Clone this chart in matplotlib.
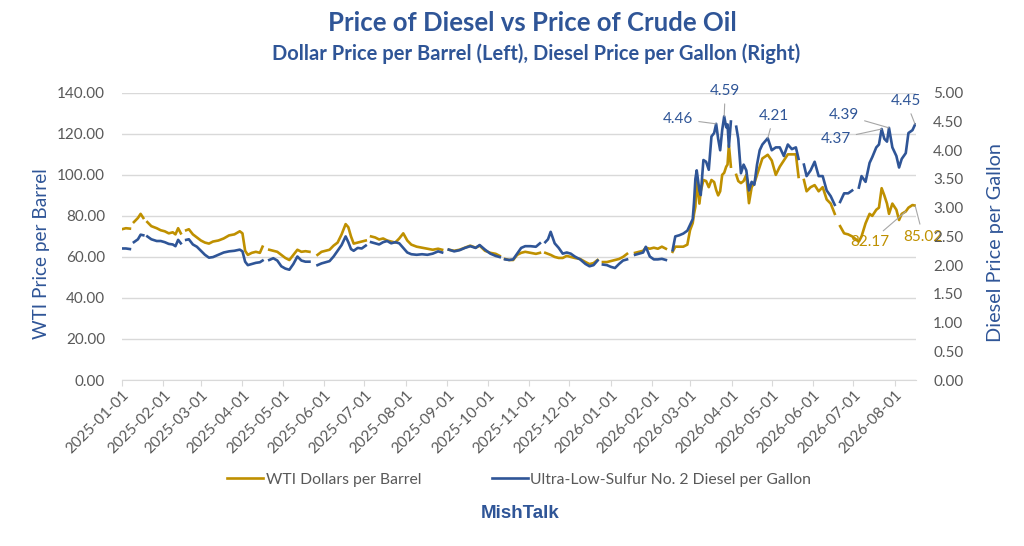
import numpy as np
import matplotlib
matplotlib.use('Agg')
import matplotlib.pyplot as plt
import matplotlib.dates as mdates
from datetime import datetime, timedelta

plt.rcParams['font.family'] = ['Lato', 'DejaVu Sans']

BLUE = '#2F5597'
GOLD = '#BF9000'
GRAY_TXT = '#595959'
GRID = '#D9D9D9'

# days since 2025-01-01 (nan = gap in the series)
start = datetime(2025, 1, 1)
day = [0, 3, 6, 7, 9, 12, 14, 16, 18, 19, 22, 26, 29, 32, 35, 38, 40, 42, 44, 45,
       48, 50, 53, 56, 59, 62, 65, 68, 72, 76, 80, 84, 88, 90, 92, 94, 97, 100, 103, 105,
       107, 110, 113, 116, 119, 122, 125, 128, 131, 134, 137, 140, 143, 146, 149, 152,
       155, 158, 161, 164, 167, 169, 171, 173, 176, 179, 182, 184, 186, 189, 192, 195,
       198, 201, 204, 207, 210, 213, 216, 220, 224, 228, 232, 236, 239, 241, 244, 248,
       252, 256, 260, 264, 267, 271, 275, 279, 282, 284, 286, 289, 292, 295, 298, 301,
       305, 309, 312, 314, 316, 318, 320, 323, 326, 329, 332, 335, 338, 342, 346, 349,
       352, 355, 357, 359, 362, 365, 368, 371, 374, 377, 380, 383, 386, 389, 391, 394,
       397, 400, 403, 406, 409, 411, 413, 416, 419, 422, 424, 426, 427, 428, 429, 431,
       432, 434, 436, 438, 440, 442, 443.5, 445, 446.5, 448, 449.5, 451, 452, 453, 454.5,
       456.5, 458.5, 460, 462, 464, 466, 468, 470, 472, 474, 476, 478, 482, 485, 488,
       491, 494, 497, 500, 503, 505, 507, 509, 511, 514, 517, 520, 523, 526, 529, 532,
       534, 536, 539, 542, 545, 547, 550, 552, 555, 558, 560, 563, 565, 567, 569, 571,
       572.5, 575, 578, 580, 582, 585, 587, 590, 592]

nan = np.nan
wti = [73.5, 74.0, 73.8, nan, 77, 79, 81, 79, nan, 77, 75, 74, 73, 72.5, 71.5, 72, 71, 74, 71.5, nan,
       73, 73.5, 71, 69.5, 68, 67, 66.5, 67.5, 68, 69, 70.5, 71, 72.5, 71.5, 63, 61, 62, 62.5, 62, 65,
       nan, 63.5, 63, 62.5, 61, 59.5, 58.5, 61, 63.5, 62.5, 62.8, 62.5, nan, 61, 62.5, 63,
       63.5, 65.5, 67, 71, 76, 74.5, 70, 66.5, 67, 67.5, 68, nan, 70, 69.5, 68.5, 69,
       68, 67.5, 67, 69, 71.5, 68, 66, 65, 64.5, 64, 63.5, 64, 63.5, nan, 63.5, 63,
       63.5, 64.5, 65.5, 64.5, 65.5, 63, 62, 61.5, 60.5, nan, 59, 58.5, 58.5, 61, 62, 62.5,
       62, 61.5, 62, nan, 62, 61.5, 61, 60, 59.5, 59.5, 60.5, 60, 59.5, 59, 57.5, 56.5,
       57, 58.5, nan, 57.5, 57.5, 58, 58.5, 59, 60, 61.5, nan, 62, 62.5, 63, 64.5, 64,
       64.5, 64, 65, 64, nan, 62.5, 65, 65, 65, 66, 73, 76.5, 81, 84.5, 97.5, 86,
       92, 97.5, 97, 94, 97.5, 96.5, 92.7, 90, 92, 100, 101, 104, 105, 114.6, 104,
       nan, 100, 97, 96, 97, 100, 86.2, 94, 96, 100, 104, 108, 109.8, 107, 100,
       104, 107, 110, 110, 110, 99, nan, 97.5, 92, 94, 95, 92, 94, 88, 86, 81,
       nan, 75, 71.5, 71, 70, 69, 67.5, 70, 76.4, 81, 80, 83, 84, 93.5, 90, 86,
       81, 86, 83, 78, 81, 82.17, 84, 85.3, 85.02]

diesel = [2.29, 2.29, 2.28, nan, 2.40, 2.45, 2.53, 2.52, nan, 2.50, 2.45, 2.42, 2.42, 2.40, 2.37, 2.36, 2.33, 2.44, 2.38, nan,
          2.44, 2.45, 2.36, 2.32, 2.25, 2.18, 2.13, 2.14, 2.18, 2.22, 2.24, 2.25, 2.27, 2.24, 2.06, 2.00, 2.02, 2.04, 2.05, 2.08,
          nan, 2.09, 2.12, 2.08, 1.98, 1.94, 1.92, 2.02, 2.15, 2.08, 2.06, 2.06, nan, 2.00, 2.03, 2.05,
          2.07, 2.15, 2.25, 2.35, 2.50, 2.40, 2.28, 2.25, 2.30, 2.29, 2.34, nan, 2.40, 2.38, 2.36, 2.40,
          2.42, 2.38, 2.40, 2.38, 2.30, 2.22, 2.19, 2.18, 2.19, 2.18, 2.20, 2.24, 2.22, nan, 2.27, 2.24,
          2.26, 2.30, 2.33, 2.30, 2.35, 2.27, 2.20, 2.16, 2.14, nan, 2.10, 2.09, 2.10, 2.20, 2.30, 2.33,
          2.33, 2.32, 2.38, nan, 2.40, 2.45, 2.58, 2.38, 2.30, 2.20, 2.22, 2.20, 2.15, 2.10, 2.02, 1.98,
          2.00, 2.08, nan, 2.01, 2.00, 1.97, 1.95, 2.02, 2.08, 2.10, nan, 2.18, 2.20, 2.22, 2.32, 2.15,
          2.10, 2.10, 2.11, 2.09, nan, 2.26, 2.50, 2.52, 2.55, 2.60, 2.70, 2.80, 3.10, 3.50, 3.65, 3.30,
          3.22, 3.83, 3.80, 3.66, 4.24, 4.30, 4.46, 4.20, 4.00, 4.35, 4.59, 4.40, 4.45, 4.06, 4.50,
          nan, 4.41, 4.20, 3.60, 3.75, 3.65, 3.30, 3.45, 3.40, 3.75, 4.00, 4.10, 4.21, 4.00, 4.05,
          4.05, 3.90, 4.10, 4.02, 4.05, 3.85, nan, 3.75, 3.55, 3.65, 3.80, 3.55, 3.55, 3.30, 3.20, 3.05,
          nan, 3.10, 3.25, 3.25, 3.30, nan, 3.35, 3.55, 3.45, 3.78, 3.88, 4.05, 4.10, 4.37, 4.20, 4.15,
          4.39, 4.05, 3.90, 3.70, 3.85, 3.95, 4.30, 4.35, 4.45]

# labelled points: (day, offset in pixels)
diesel_labels = [(443.5, (-38, 5)), (449.5, (1, 25)), (482, (6, 22)),
                 (567, (-46, -10)), (572.5, (-45, 13)), (592, (-9, 23))]
wti_labels = [(585, (-36, -31)), (592, (8, -31))]

dates = [start + timedelta(days=d) for d in day]
month_ticks = [datetime(2025 + (m // 12), m % 12 + 1, 1) for m in range(20)]

fig = plt.figure(figsize=(10.24, 5.46), dpi=100)
ax = fig.add_axes([0.119, 0.304, 0.776, 0.526])
ax2 = ax.twinx()

l1, = ax.plot(dates, wti, color=GOLD, linewidth=1.9, label='WTI Dollars per Barrel')
l2, = ax2.plot(dates, diesel, color=BLUE, linewidth=1.9, label='Ultra-Low-Sulfur No. 2 Diesel per Gallon')

ax.set_xlim(start, start + timedelta(days=593))
ax.set_ylim(0, 140)
ax2.set_ylim(0, 5)
ax.set_yticks(np.arange(0, 141, 20))
ax2.set_yticks(np.arange(0, 5.01, 0.5))
ax.yaxis.set_major_formatter(matplotlib.ticker.FormatStrFormatter('%.2f'))
ax2.yaxis.set_major_formatter(matplotlib.ticker.FormatStrFormatter('%.2f'))
ax.set_xticks(month_ticks)
ax.xaxis.set_major_formatter(mdates.DateFormatter('%Y-%m-%d'))
for lab in ax.get_xticklabels():
    lab.set_rotation(45)
    lab.set_ha('right')
    lab.set_rotation_mode('anchor')

ax.grid(True, axis='y', color=GRID, linewidth=1)
ax.set_axisbelow(True)
for a in (ax, ax2):
    for s in ['top', 'left', 'right']:
        a.spines[s].set_visible(False)
    a.spines['bottom'].set_color(GRID)
ax2.spines['bottom'].set_visible(False)
ax.tick_params(axis='y', length=0, labelsize=11, labelcolor=GRAY_TXT, pad=12)
ax2.tick_params(axis='y', length=0, labelsize=11, labelcolor=GRAY_TXT, pad=12)
ax.tick_params(axis='x', length=4, color=GRID, labelsize=11, labelcolor=GRAY_TXT, pad=2)

fig.text(0.041, 0.535, 'WTI Price per Barrel', rotation=90, ha='center', va='center',
         color=BLUE, fontsize=13.7)
fig.text(0.972, 0.555, 'Diesel Price per Gallon', rotation=90, ha='center', va='center',
         color=BLUE, fontsize=14.3)

# data labels
for d, off in diesel_labels:
    i = day.index(d)
    ax2.annotate(f'{diesel[i]:.2f}', xy=(dates[i], diesel[i]), xytext=off, textcoords='offset pixels',
                 ha='center', va='center', color=BLUE, fontsize=11,
                 arrowprops=dict(arrowstyle='-', color='#A6A6A6', lw=0.8, shrinkA=2, shrinkB=0))
for d, off in wti_labels:
    i = day.index(d)
    ax.annotate(f'{wti[i]:.2f}', xy=(dates[i], wti[i]), xytext=off, textcoords='offset pixels',
                ha='center', va='center', color=GOLD, fontsize=11,
                arrowprops=dict(arrowstyle='-', color='#A6A6A6', lw=0.8, shrinkA=2, shrinkB=0))

fig.text(0.52, 0.958, 'Price of Diesel vs Price of Crude Oil', ha='center', va='center',
         color=BLUE, fontsize=18.5, fontweight='bold')
fig.text(0.524, 0.902, 'Dollar Price per Barrel (Left), Diesel Price per Gallon (Right)', ha='center',
         va='center', color=BLUE, fontsize=14.5, fontweight='bold')

fig.legend(handles=[l1, l2], loc='center', bbox_to_anchor=(0.507, 0.121), ncol=2, frameon=False,
           fontsize=11.3, labelcolor=GRAY_TXT, handlelength=2.3, handletextpad=0.15, columnspacing=4.5)

fig.text(0.508, 0.06, 'MishTalk', ha='center', va='center', color=BLUE, fontsize=13.5,
         fontweight='bold', family='Liberation Sans')

fig.savefig('out.png', dpi=100)
